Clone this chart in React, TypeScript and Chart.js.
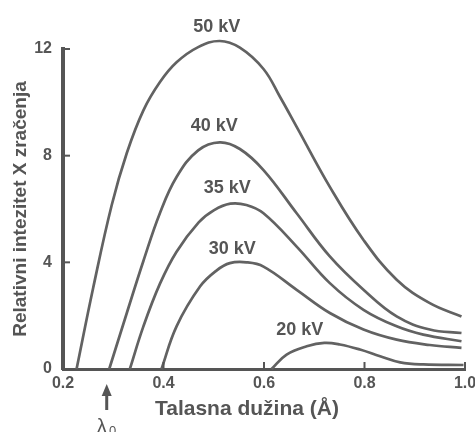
import React, { useEffect, useRef } from "react";
import { Chart, registerables } from "chart.js";

Chart.register(...registerables);

// ---- Data ----
const kv50X = [0.227, 0.26, 0.297, 0.327, 0.36, 0.393, 0.426, 0.469, 0.512, 0.552, 0.599, 0.632, 0.665, 0.731, 0.798, 0.864, 0.93, 0.993];
const kv50Y = [0, 3.04, 6.15, 8.1, 9.7, 10.76, 11.5, 12.07, 12.3, 12.05, 11.25, 10.2, 9.08, 6.83, 4.84, 3.35, 2.47, 1.97];

const kv40X = [0.292, 0.327, 0.36, 0.393, 0.426, 0.469, 0.512, 0.552, 0.599, 0.665, 0.731, 0.798, 0.864, 0.93, 0.993];
const kv40Y = [0, 2.1, 4.05, 5.85, 7.2, 8.2, 8.5, 8.25, 7.46, 5.84, 4.22, 2.97, 1.97, 1.48, 1.35];

const kv35X = [0.333, 0.36, 0.393, 0.426, 0.47, 0.5, 0.533, 0.565, 0.599, 0.665, 0.731, 0.798, 0.864, 0.917, 0.993];
const kv35Y = [0, 1.6, 3.2, 4.4, 5.5, 5.95, 6.2, 6.15, 5.84, 4.59, 3.22, 2.22, 1.6, 1.29, 1.04];

const kv30X = [0.396, 0.426, 0.473, 0.506, 0.532, 0.565, 0.599, 0.665, 0.731, 0.798, 0.864, 0.93, 0.993];
const kv30Y = [0, 1.6, 3.1, 3.7, 3.97, 4.0, 3.84, 2.97, 2.1, 1.48, 1.1, 0.9, 0.79];

const kv20X = [0.615, 0.645, 0.685, 0.72, 0.751, 0.791, 0.831, 0.871, 0.917, 0.997];
const kv20Y = [0, 0.54, 0.85, 0.98, 0.92, 0.73, 0.48, 0.25, 0.17, 0.15];

const xTicks = [0.2, 0.4, 0.6, 0.8, 1.0];
const yTicks = [0, 4, 8, 12];

const seriesLabels = ["50 kV", "40 kV", "35 kV", "30 kV", "20 kV"];
const labelX = [0.506, 0.501, 0.527, 0.537, 0.671];
const labelY = [12.84, 9.12, 6.77, 4.49, 1.46];

const lambda0 = 0.287;
const xTitle = "Talasna dužina (Å)";
const xTitleCenter = 0.566;
const yTitle = "Relativni intezitet X zračenja";

const INK = "#555555";
const LINE = "#626262";
const FONT = "'Liberation Sans', Arial, Helvetica, sans-serif";

const toPts = (xs: number[], ys: number[]) => xs.map((x, i) => ({ x, y: ys[i] }));

const annotationPlugin = {
  id: "annot",
  afterDraw(chart: any) {
    const { ctx, chartArea } = chart;
    const xs = chart.scales.x;
    const ys = chart.scales.y;
    ctx.save();
    // inside tick marks
    ctx.strokeStyle = INK;
    ctx.lineWidth = 2;
    yTicks.forEach((v) => {
      if (v === 0) return;
      const py = ys.getPixelForValue(v);
      ctx.beginPath();
      ctx.moveTo(chartArea.left, py);
      ctx.lineTo(chartArea.left + 7, py);
      ctx.stroke();
    });
    xTicks.forEach((v, i) => {
      if (i === 0) return;
      const px = xs.getPixelForValue(v);
      ctx.beginPath();
      ctx.moveTo(px, chartArea.bottom);
      ctx.lineTo(px, chartArea.bottom - 7);
      ctx.stroke();
    });
    // curve labels
    ctx.fillStyle = INK;
    ctx.font = `bold 18px ${FONT}`;
    ctx.textAlign = "center";
    ctx.textBaseline = "middle";
    seriesLabels.forEach((t, i) => {
      ctx.fillText(t, xs.getPixelForValue(labelX[i]), ys.getPixelForValue(labelY[i]));
    });
    // x axis title
    ctx.font = `bold 21px ${FONT}`;
    ctx.fillText(xTitle, xs.getPixelForValue(xTitleCenter), chartArea.bottom + 40);
    // lambda0 arrow
    const ax = xs.getPixelForValue(lambda0);
    const tip = chartArea.bottom + 15;
    ctx.lineWidth = 3;
    ctx.beginPath();
    ctx.moveTo(ax, tip + 6);
    ctx.lineTo(ax, tip + 26);
    ctx.stroke();
    ctx.beginPath();
    ctx.moveTo(ax, tip);
    ctx.lineTo(ax - 5, tip + 12);
    ctx.lineTo(ax + 5, tip + 12);
    ctx.closePath();
    ctx.fill();
    ctx.font = `20px ${FONT}`;
    ctx.fillText("λ", ax - 5, chartArea.bottom + 58);
    ctx.font = `13px ${FONT}`;
    ctx.fillText("0", ax + 6, chartArea.bottom + 62);
    ctx.restore();
  },
};

export default function App() {
  const ref = useRef<HTMLCanvasElement | null>(null);
  useEffect(() => {
    if (!ref.current) return;
    const mk = (xs: number[], ys: number[], label: string) => ({
      label,
      data: toPts(xs, ys),
      borderColor: LINE,
      borderWidth: 2.7,
      pointRadius: 0,
      fill: false,
      tension: 0.4,
      clip: false as any,
    });
    const chart = new Chart(ref.current, {
      type: "line",
      data: {
        datasets: [
          mk(kv50X, kv50Y, seriesLabels[0]),
          mk(kv40X, kv40Y, seriesLabels[1]),
          mk(kv35X, kv35Y, seriesLabels[2]),
          mk(kv30X, kv30Y, seriesLabels[3]),
          mk(kv20X, kv20Y, seriesLabels[4]),
        ],
      },
      options: {
        responsive: false,
        animation: false,
        layout: { padding: { top: 49, right: 10, left: 0, bottom: 0 } },
        plugins: { legend: { display: false }, tooltip: { enabled: false } },
        scales: {
          x: {
            type: "linear",
            min: 0.2,
            max: 1.0,
            afterBuildTicks: (s: any) => {
              s.ticks = xTicks.map((v) => ({ value: v }));
            },
            afterFit: (s: any) => {
              s.height = 63;
              s.paddingRight = 0;
              s.paddingLeft = 0;
            },
            ticks: {
              color: INK,
              font: { family: FONT, size: 16, weight: "bold" },
              padding: 5,
              maxRotation: 0,
              callback: (v: any) => Number(v).toFixed(1),
            },
            grid: { display: false, drawTicks: false },
            border: { display: true, color: INK, width: 3 },
          },
          y: {
            min: 0,
            max: 12,
            afterBuildTicks: (s: any) => {
              s.ticks = yTicks.map((v) => ({ value: v }));
            },
            afterFit: (s: any) => {
              s.width = 63;
            },
            ticks: {
              color: INK,
              font: { family: FONT, size: 16, weight: "bold" },
              padding: 11,
              callback: (v: any) => String(v),
            },
            grid: { display: false, drawTicks: false },
            border: { display: true, color: INK, width: 4 },
            title: {
              display: true,
              text: yTitle,
              color: INK,
              font: { family: FONT, size: 19, weight: "bold" },
              padding: { top: 9, bottom: 0 },
            },
          },
        },
      },
      plugins: [annotationPlugin],
    });
    return () => chart.destroy();
  }, []);
  return (
    <div style={{ position: "fixed", left: 0, top: 0, width: 475, height: 432, background: "#fff" }}>
      <canvas ref={ref} width={475} height={432} style={{ display: "block" }} />
    </div>
  );
}
